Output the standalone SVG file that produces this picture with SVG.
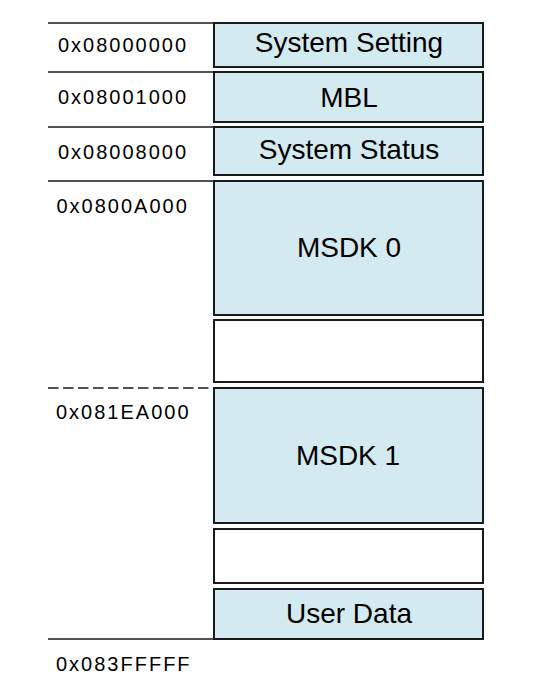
<svg xmlns="http://www.w3.org/2000/svg" width="543" height="694" viewBox="0 0 543 694">
<style>
.blk{fill:#D3EAF0;stroke:#1a1a1a;stroke-width:2}
.emp{fill:#ffffff;stroke:#1a1a1a;stroke-width:2}
.ln{stroke:#1a1a1a;stroke-width:1.3;fill:none}
.dash{stroke:#1a1a1a;stroke-width:1.3;stroke-dasharray:10.5 4.5;fill:none}
.addr{font-family:"Liberation Sans",Arial,sans-serif;font-size:20px;letter-spacing:2px;fill:#000}
.lbl{font-family:"Liberation Sans",Arial,sans-serif;font-size:28px;fill:#000;text-anchor:middle}
</style>
<rect width="543" height="694" fill="#ffffff"/>
<g id="connectors">
<line class="ln" x1="48" y1="23" x2="214" y2="23"/>
<line class="ln" x1="48" y1="72" x2="214" y2="72"/>
<line class="ln" x1="48" y1="127" x2="214" y2="127"/>
<line class="ln" x1="48" y1="181" x2="214" y2="181"/>
<line class="dash" x1="48" y1="388" x2="214" y2="388"/>
<line class="ln" x1="48" y1="639" x2="214" y2="639"/>
</g>
<g id="addresses">
<text class="addr" x="58" y="52">0x08000000</text>
<text class="addr" x="58" y="104">0x08001000</text>
<text class="addr" x="58" y="158.5">0x08008000</text>
<text class="addr" x="56.5" y="212.5">0x0800A000</text>
<text class="addr" x="56" y="419">0x081EA000</text>
<text class="addr" x="56" y="671">0x083FFFFF</text>
</g>
<g id="system-setting">
<rect class="blk" x="214" y="23" width="269" height="44"/>
<text class="lbl" x="349" y="52.3">System Setting</text>
</g>
<g id="mbl">
<rect class="blk" x="214" y="72" width="269" height="50"/>
<text class="lbl" x="349" y="106.7">MBL</text>
</g>
<g id="system-status">
<rect class="blk" x="214" y="127" width="269" height="48"/>
<text class="lbl" x="349" y="159.3">System Status</text>
</g>
<g id="msdk0">
<rect class="blk" x="214" y="181" width="269" height="134"/>
<text class="lbl" x="349" y="257.3">MSDK 0</text>
</g>
<g id="empty0">
<rect class="emp" x="214" y="320" width="269" height="62"/>
</g>
<g id="msdk1">
<rect class="blk" x="214" y="388" width="269" height="135"/>
<text class="lbl" x="348" y="465">MSDK 1</text>
</g>
<g id="empty1">
<rect class="emp" x="214" y="529" width="269" height="54"/>
</g>
<g id="user-data">
<rect class="blk" x="214" y="589" width="269" height="50"/>
<text class="lbl" x="349" y="623.3">User Data</text>
</g>
</svg>
